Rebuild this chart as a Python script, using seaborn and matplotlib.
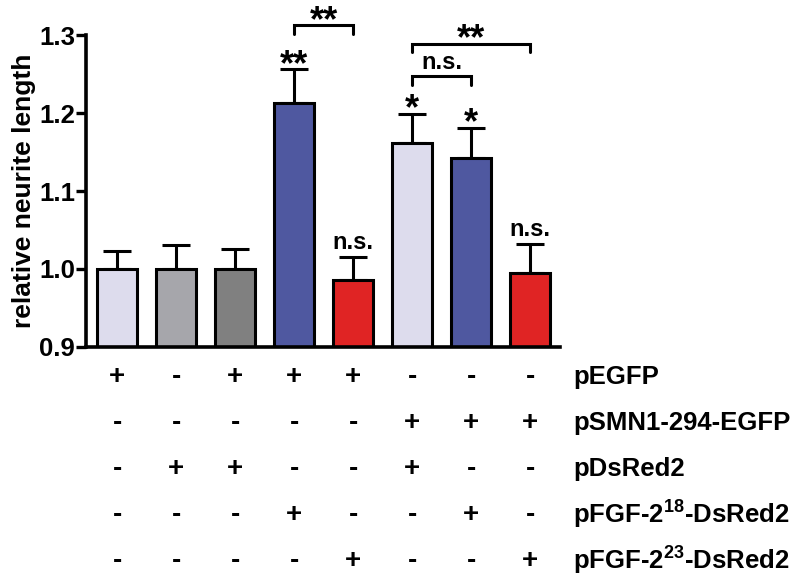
import numpy as np
import pandas as pd
import seaborn as sns
import matplotlib.pyplot as plt
from matplotlib.transforms import blended_transform_factory

# values
groups = ['1', '2', '3', '4', '5', '6', '7', '8']
means = [1.000, 1.000, 1.000, 1.213, 0.986, 1.161, 1.142, 0.995]
sem = [0.023, 0.031, 0.025, 0.043, 0.029, 0.038, 0.039, 0.037]
bar_colors = ['#dddced', '#a6a6ab', '#808080', '#4f58a0', '#e02424',
              '#dddced', '#4f58a0', '#e02424']
bar_marks = ['', '', '', '**', 'n.s.', '*', '*', 'n.s.']

# condition table under the bars
row_names = ['pEGFP', 'pSMN1-294-EGFP', 'pDsRed2',
             r'pFGF-2$^{\mathbf{18}}$-DsRed2', r'pFGF-2$^{\mathbf{23}}$-DsRed2']
row_signs = [
    ['+', '-', '+', '+', '+', '-', '-', '-'],
    ['-', '-', '-', '-', '-', '+', '+', '+'],
    ['-', '+', '+', '-', '-', '+', '-', '-'],
    ['-', '-', '-', '+', '-', '-', '+', '-'],
    ['-', '-', '-', '-', '+', '-', '-', '+'],
]

# pairwise comparisons: (left bar, right bar, label)
pairs = [(3, 4, '**'), (5, 7, '**'), (5, 6, 'n.s.')]

sns.set_style('ticks')
plt.rcParams['font.family'] = ['Liberation Sans', 'DejaVu Sans']
plt.rcParams['font.weight'] = 'bold'
plt.rcParams['text.color'] = 'black'
plt.rcParams['axes.labelcolor'] = 'black'
plt.rcParams['ytick.color'] = 'black'
plt.rcParams['axes.edgecolor'] = 'black'
plt.rcParams['mathtext.fontset'] = 'custom'
plt.rcParams['mathtext.rm'] = 'Liberation Sans:bold'
plt.rcParams['mathtext.bf'] = 'Liberation Sans:bold'
plt.rcParams['mathtext.default'] = 'bf'

df = pd.DataFrame({'group': groups, 'value': means})

fig = plt.figure(figsize=(7.97, 5.85), dpi=100)
ax = fig.add_axes([0.108, 0.407, 0.595, 0.533])

sns.barplot(data=df, x='group', y='value', hue='group', palette=bar_colors,
            legend=False, width=0.68, edgecolor='black', linewidth=2.2,
            saturation=1, ax=ax, zorder=2)
ax.errorbar(np.arange(len(means)), means, yerr=[np.zeros(len(sem)), sem],
            fmt='none', ecolor='black', elinewidth=2.2, capsize=10,
            capthick=2.2, zorder=1)

ax.set_ylim(0.9, 1.3)
ax.set_xlim(-0.525, 7.51)
ax.set_yticks([0.9, 1.0, 1.1, 1.2, 1.3])
ax.set_yticklabels(['%.1f' % t for t in [0.9, 1.0, 1.1, 1.2, 1.3]])
ax.tick_params(axis='y', length=7, width=2.4, labelsize=18.5, pad=1,
               colors='black')
ax.tick_params(axis='x', length=0, labelbottom=False)
ax.set_xlabel('')
ax.set_ylabel('relative neurite length', fontsize=19, fontweight='bold',
              labelpad=2)
for s in ['left', 'bottom']:
    ax.spines[s].set_linewidth(2.6)
sns.despine(ax=ax)

# marks above each bar
for i, (m, e, lab) in enumerate(zip(means, sem, bar_marks)):
    if not lab:
        continue
    if '*' in lab:
        ax.text(i, m + e - 0.007, lab, ha='center', va='baseline',
                fontsize=26, fontweight='bold')
    else:
        ax.text(i, m + e + 0.010, lab, ha='center', va='baseline',
                fontsize=17, fontweight='bold')

# brackets
tops = [1.3124, 1.289, 1.247]
for (a, b, lab), top in zip(pairs, tops):
    ax.plot([a, a, b, b], [top - 0.0105, top, top, top - 0.0105],
            color='black', lw=2.2, clip_on=False, solid_joinstyle='miter')
    if '*' in lab:
        ax.text((a + b) / 2, top - 0.007, lab, ha='center', va='baseline',
                fontsize=26, fontweight='bold', clip_on=False)
    else:
        ax.text((a + b) / 2, top + 0.010, lab, ha='center', va='baseline',
                fontsize=17, fontweight='bold', clip_on=False)

# table
tr = blended_transform_factory(ax.transData, fig.transFigure)
row_y = [377, 423, 469, 515, 561]
for name, signs, ypx in zip(row_names, row_signs, row_y):
    yf = 1 - ypx / 585
    for i, s in enumerate(signs):
        ax.text(i, yf, s, transform=tr, ha='center', va='center',
                fontsize=20, fontweight='bold')
    fig.text(0.719, yf, name, ha='left', va='center', fontsize=18.5,
             fontweight='bold')

fig.savefig('out.png', dpi=100)
